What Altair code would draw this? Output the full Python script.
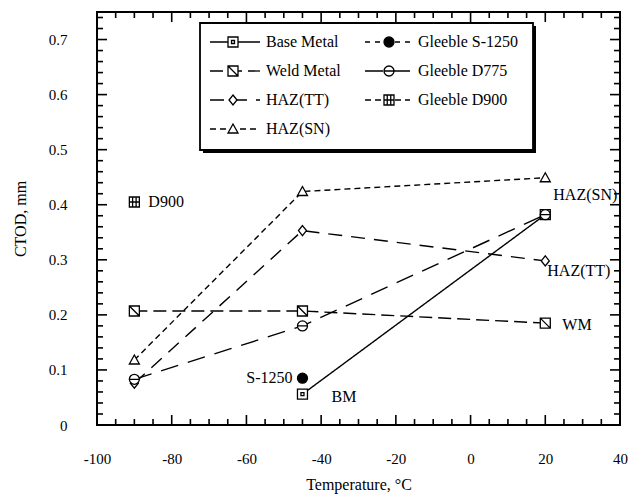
import altair as alt
import pandas as pd

# ---------------- data ----------------
series = ["Base Metal", "Weld Metal", "HAZ(TT)", "HAZ(SN)",
          "Gleeble S-1250", "Gleeble D775", "Gleeble D900"]

base_metal_temp = [-45, 20]
base_metal_ctod = [0.056, 0.382]
weld_metal_temp = [-90, -45, 20]
weld_metal_ctod = [0.207, 0.207, 0.185]
haz_tt_temp = [-90, -45, 20]
haz_tt_ctod = [0.076, 0.353, 0.298]
haz_sn_temp = [-90, -45, 20]
haz_sn_ctod = [0.118, 0.424, 0.449]
s1250_temp = [-45]
s1250_ctod = [0.085]
d775_temp = [-90, -45, 20]
d775_ctod = [0.083, 0.180, 0.382]
d900_temp = [-90]
d900_ctod = [0.405]

x_major_ticks = [-100, -80, -60, -40, -20, 0, 20, 40]
x_minor_ticks = [-95, -90, -85, -75, -70, -65, -55, -50, -45, -35, -30, -25,
                 -15, -10, -5, 5, 10, 15, 25, 30, 35]
y_major_ticks = [0, 0.1, 0.2, 0.3, 0.4, 0.5, 0.6, 0.7]
y_minor_ticks = [0.02, 0.04, 0.06, 0.08, 0.12, 0.14, 0.16, 0.18, 0.22, 0.24,
                 0.26, 0.28, 0.32, 0.34, 0.36, 0.38, 0.42, 0.44, 0.46, 0.48,
                 0.52, 0.54, 0.56, 0.58, 0.62, 0.64, 0.66, 0.68, 0.72, 0.74]

legend_col1 = ["Base Metal", "Weld Metal", "HAZ(TT)", "HAZ(SN)"]
legend_col2 = ["Gleeble S-1250", "Gleeble D775", "Gleeble D900"]

# annotations: text, anchored on a data point
ann_text = ["D900", "S-1250", "BM", "HAZ(SN)", "HAZ(TT)", "WM"]
ann_temp = [-90, -45, -45, 20, 20, 20]
ann_ctod = [0.405, 0.085, 0.056, 0.449, 0.298, 0.185]

# ---------------- tables ----------------
temps = [base_metal_temp, weld_metal_temp, haz_tt_temp, haz_sn_temp,
         s1250_temp, d775_temp, d900_temp]
ctods = [base_metal_ctod, weld_metal_ctod, haz_tt_ctod, haz_sn_ctod,
         s1250_ctod, d775_ctod, d900_ctod]
rows = []
for name, xs, ys in zip(series, temps, ctods):
    for xv, yv in zip(xs, ys):
        rows.append({"series": name, "temp": xv, "ctod": yv})
df = pd.DataFrame(rows)

# ---------------- styles / layout ----------------
FONT = "Liberation Serif"
PLOT_W, PLOT_H = 523, 413
PAD = {"left": 97, "top": 12, "right": 10, "bottom": 73}
X_MIN, X_MAX = -100, 40
Y_MIN, Y_MAX = 0, 0.75
MAJOR_LEN, MINOR_LEN = 10, 6         # tick lengths in pixels
PX_X = PLOT_W / (X_MAX - X_MIN)      # pixels per degree
PX_Y = PLOT_H / (Y_MAX - Y_MIN)      # pixels per mm

SQ = "M-1,-1H1V1H-1Z"
style_dash = {
    "Base Metal": [1, 0], "Weld Metal": [13, 6], "HAZ(TT)": [14, 9],
    "HAZ(SN)": [6, 4], "Gleeble S-1250": [5, 5], "Gleeble D775": [18, 10],
    "Gleeble D900": [6, 4],
}
style_shape = {
    "Base Metal": SQ + "M-0.3,-0.3H0.3V0.3H-0.3Z",
    "Weld Metal": SQ + "M-1,-1L1,1",
    "HAZ(TT)": "M0,-1L0.8,0L0,1L-0.8,0Z",
    "HAZ(SN)": "M0,-1L1,0.8H-1Z",
    "Gleeble S-1250": "circle",
    "Gleeble D775": "M-1,0A1,1 0 1,1 1,0A1,1 0 1,1 -1,0Z M-1,0H1",
    "Gleeble D900": SQ + "M-0.35,-1V1M0.35,-1V1M-1,0H1",
}
style_fill = {s: "white" for s in series}
style_fill["Gleeble S-1250"] = "black"
style_size = {"Base Metal": 100, "Weld Metal": 100, "HAZ(TT)": 49, "HAZ(SN)": 81,
              "Gleeble S-1250": 81, "Gleeble D775": 81, "Gleeble D900": 100}

dash_scale = alt.Scale(domain=series, range=[style_dash[s] for s in series])
shape_scale = alt.Scale(domain=series, range=[style_shape[s] for s in series])
fill_scale = alt.Scale(domain=series, range=[style_fill[s] for s in series])
size_scale = alt.Scale(domain=series, range=[style_size[s] for s in series])

xscale = alt.Scale(domain=[X_MIN, X_MAX], nice=False, zero=False)
yscale = alt.Scale(domain=[Y_MIN, Y_MAX], nice=False, zero=False)

common_axis = dict(domain=False, grid=False, ticks=False,
                   labelColor="black", titleColor="black", labelFont=FONT,
                   titleFont=FONT, labelFlush=False, labelOverlap=False,
                   titleFontWeight="normal")

ax_bottom = alt.Axis(orient="bottom", values=x_major_ticks,
                     labelExpr="'' + datum.value", labelFontSize=15, labelPadding=26,
                     title="Temperature, °C", titleFontSize=16, titlePadding=10,
                     **common_axis)
ax_left = alt.Axis(orient="left", values=y_major_ticks,
                   labelExpr="datum.value == 0 ? '0' : format(datum.value, '.1f')",
                   labelFontSize=15, labelPadding=30,
                   title="CTOD, mm", titleFontSize=16, titlePadding=20,
                   **common_axis)

axis_layer = alt.Chart(df).mark_point(opacity=0).encode(
    x=alt.X("temp:Q", scale=xscale, axis=ax_bottom),
    y=alt.Y("ctod:Q", scale=yscale, axis=ax_left),
)

X = alt.X("temp:Q", scale=xscale, axis=None)
Y = alt.Y("ctod:Q", scale=yscale, axis=None)

lines = alt.Chart(df).mark_line(stroke="black", strokeWidth=1.4).encode(
    x=X, y=Y,
    strokeDash=alt.StrokeDash("series:N", scale=dash_scale, legend=None),
)

points = alt.Chart(df).mark_point(filled=True, stroke="black", strokeWidth=1.3,
                                  opacity=1).encode(
    x=X, y=Y,
    shape=alt.Shape("series:N", scale=shape_scale, legend=None),
    fill=alt.Fill("series:N", scale=fill_scale, legend=None),
    size=alt.Size("series:N", scale=size_scale, legend=None),
)

ann_style = [
    dict(dx=14, dy=0, align="left"),
    dict(dx=-10, dy=0, align="right"),
    dict(dx=29, dy=3, align="left"),
    dict(dx=8, dy=17, align="left"),
    dict(dx=2, dy=10, align="left"),
    dict(dx=17, dy=2, align="left"),
]
ann_layers = []
for t, xv, yv, st in zip(ann_text, ann_temp, ann_ctod, ann_style):
    ann_layers.append(
        alt.Chart(pd.DataFrame({"temp": [xv], "ctod": [yv], "t": [t]}))
        .mark_text(font=FONT, fontSize=16, color="black", baseline="middle", **st)
        .encode(x=X, y=Y, text="t:N")
    )

# ---------------- frame ticks, pointing inward (plot pixel coordinates) ----------------
tick_segs = []
for vals, ln in ((x_major_ticks, MAJOR_LEN), (x_minor_ticks, MINOR_LEN)):
    for v in vals:
        px = (v - X_MIN) * PX_X
        tick_segs.append({"sx1": px, "sx2": px, "sy1": PLOT_H, "sy2": PLOT_H - ln})
        tick_segs.append({"sx1": px, "sx2": px, "sy1": 0, "sy2": ln})
for vals, ln in ((y_major_ticks, MAJOR_LEN), (y_minor_ticks, MINOR_LEN)):
    for v in vals:
        py = PLOT_H - (v - Y_MIN) * PX_Y
        tick_segs.append({"sx1": 0, "sx2": ln, "sy1": py, "sy2": py})
        tick_segs.append({"sx1": PLOT_W, "sx2": PLOT_W - ln, "sy1": py, "sy2": py})
tick_df = pd.DataFrame(tick_segs)

ticks = alt.Chart(tick_df).mark_rule(stroke="black", strokeWidth=1.6).encode(
    x=alt.X("sx1:Q", scale=None, axis=None), x2="sx2:Q",
    y=alt.Y("sy1:Q", scale=None, axis=None), y2="sy2:Q",
)

# ---------------- legend (plot pixel coordinates) ----------------
leg_rows = []
row_y0, row_step = 30, 29
for i, n in enumerate(legend_col1):
    leg_rows.append({"series": n, "lx1": 113, "lx2": 163, "mx": 136, "tx": 169,
                     "ly": row_y0 + row_step * i})
for i, n in enumerate(legend_col2):
    leg_rows.append({"series": n, "lx1": 268, "lx2": 313, "mx": 292, "tx": 321,
                     "ly": row_y0 + row_step * i})
leg_df = pd.DataFrame(leg_rows)

one = pd.DataFrame({"k": [0]})
leg_shadow = alt.Chart(one).mark_rect(fill="black").encode(
    x=alt.value(106), x2=alt.value(439), y=alt.value(14), y2=alt.value(141))
leg_box = alt.Chart(one).mark_rect(fill="white", stroke="black", strokeWidth=1.8).encode(
    x=alt.value(103), x2=alt.value(436), y=alt.value(11), y2=alt.value(138))
leg_lines = alt.Chart(leg_df).mark_rule(stroke="black", strokeWidth=1.3).encode(
    x=alt.X("lx1:Q", scale=None, axis=None), x2="lx2:Q",
    y=alt.Y("ly:Q", scale=None, axis=None),
    strokeDash=alt.StrokeDash("series:N", scale=dash_scale, legend=None),
)
leg_marks = alt.Chart(leg_df).mark_point(filled=True, stroke="black", strokeWidth=1.3,
                                         opacity=1).encode(
    x=alt.X("mx:Q", scale=None, axis=None),
    y=alt.Y("ly:Q", scale=None, axis=None),
    shape=alt.Shape("series:N", scale=shape_scale, legend=None),
    fill=alt.Fill("series:N", scale=fill_scale, legend=None),
    size=alt.Size("series:N", scale=size_scale, legend=None),
)
leg_text = alt.Chart(leg_df).mark_text(font=FONT, fontSize=16, color="black",
                                       align="left", baseline="middle").encode(
    x=alt.X("tx:Q", scale=None, axis=None),
    y=alt.Y("ly:Q", scale=None, axis=None),
    text="series:N",
)

chart = alt.layer(
    axis_layer, lines, points, *ann_layers,
    leg_shadow, leg_box, leg_lines, leg_marks, leg_text, ticks,
).resolve_axis(
    x="independent", y="independent"
).properties(
    width=PLOT_W, height=PLOT_H,
    autosize=alt.AutoSizeParams(type="none"),
    padding=PAD,
    background="white",
).configure_view(stroke="black", strokeWidth=2)

chart.save("out.html", embed_options={"renderer": "svg", "actions": False})
